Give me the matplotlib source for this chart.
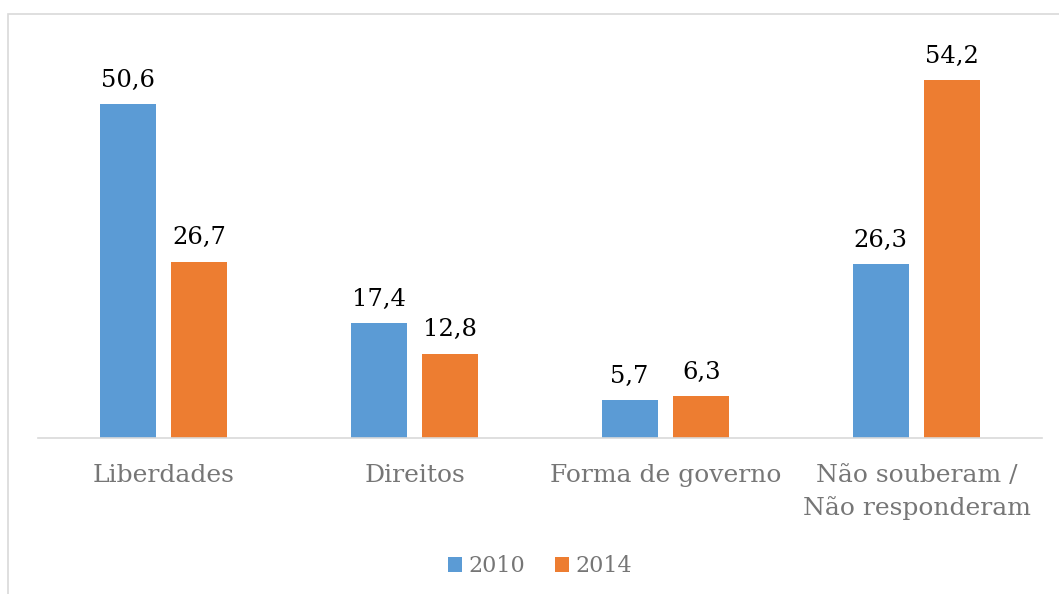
import matplotlib.pyplot as plt
import numpy as np
from matplotlib.patches import Rectangle

categories = ["Liberdades", "Direitos", "Forma de governo", "Não souberam /\nNão responderam"]
series_names = ["2010", "2014"]
values_2010 = [50.6, 17.4, 5.7, 26.3]
values_2014 = [26.7, 12.8, 6.3, 54.2]
colors = ["#5B9BD5", "#ED7D31"]

plt.rcParams["font.family"] = ["DejaVu Serif"]

fig = plt.figure(figsize=(10.59, 5.94), dpi=100)
ax = fig.add_axes([38 / 1059, 1 - 438 / 594, 1004 / 1059, 396 / 594])

x = np.arange(len(categories))
width = 0.223
offset = 0.143

for vals, name, col, off in [(values_2010, series_names[0], colors[0], -offset),
                             (values_2014, series_names[1], colors[1], offset)]:
    bars = ax.bar(x + off, vals, width, color=col, label=name)
    for b, v in zip(bars, vals):
        ax.annotate(f"{v:.1f}".replace(".", ","), (b.get_x() + b.get_width() / 2, v),
                    xytext=(0, 9), textcoords="offset points",
                    ha="center", va="bottom", fontsize=17.5, color="#000000")

ax.set_xlim(-0.5, len(categories) - 0.5)
ax.set_ylim(0, 60)
ax.set_yticks([])
ax.set_xticks(x)
ax.set_xticklabels(categories, fontsize=18, color="#767676", linespacing=1.45)
ax.tick_params(axis="x", length=0, pad=19)
for s in ["top", "right", "left"]:
    ax.spines[s].set_visible(False)
ax.spines["bottom"].set_color("#D9D9D9")
ax.spines["bottom"].set_linewidth(1.2)

leg = ax.legend(loc="center", bbox_to_anchor=(0.5, (566 - 438) / -396), ncol=2,
                frameon=False, fontsize=16, handlelength=0.65, handleheight=0.65,
                handletextpad=0.3, columnspacing=1.3, labelcolor="#767676")

fig.patches.append(Rectangle((8 / 1059, -0.1), 1.2, 1.1 - 14 / 594, transform=fig.transFigure,
                             fill=False, edgecolor="#D9D9D9", linewidth=1.2))

fig.savefig("out.png", dpi=100)
